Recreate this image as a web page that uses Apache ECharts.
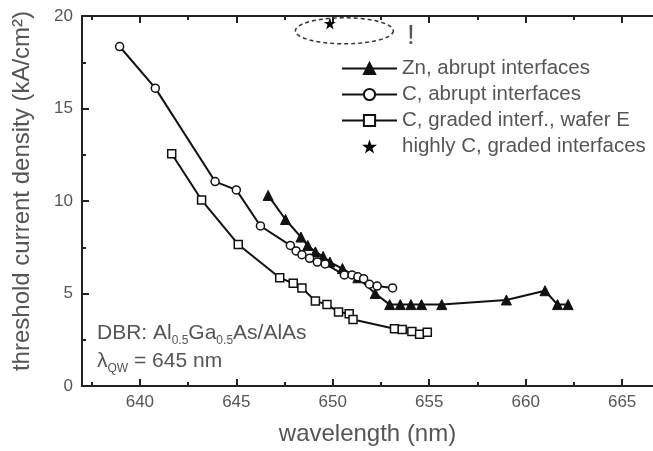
<!DOCTYPE html>
<html>
<head>
<meta charset="utf-8">
<script src="https://cdn.jsdelivr.net/npm/echarts@6/dist/echarts.min.js"></script>
<style>html,body{margin:0;padding:0;background:#fff}#c{width:653px;height:451px}</style>
</head>
<body>
<div id="c"></div>
<script>
// ---- data (wavelength nm, threshold current density kA/cm^2) ----
const znAbrupt = [[646.65,10.3],[647.55,9.0],[648.35,8.05],[648.7,7.6],[649.1,7.25],[649.5,7.0],[649.85,6.7],[650.5,6.35],[651.3,5.85],[652.2,5.0],[652.95,4.4],[653.5,4.4],[654.05,4.4],[654.6,4.4],[655.65,4.4],[659.0,4.65],[661.0,5.15],[661.65,4.4],[662.2,4.4]];
const cAbrupt = [[638.95,18.35],[640.8,16.1],[643.9,11.05],[645.0,10.6],[646.25,8.65],[647.8,7.6],[648.1,7.3],[648.4,7.1],[648.8,6.9],[649.2,6.7],[649.6,6.6],[650.6,6.0],[651.0,6.0],[651.3,5.9],[651.6,5.8],[651.9,5.5],[652.3,5.4],[653.1,5.3]];
const cGraded = [[641.65,12.55],[643.2,10.05],[645.1,7.65],[647.25,5.85],[647.95,5.55],[648.4,5.3],[649.1,4.6],[649.7,4.4],[650.3,4.0],[650.85,3.9],[651.05,3.6],[653.2,3.1],[653.6,3.05],[654.1,2.95],[654.5,2.8],[654.9,2.9]];
const highlyC = [[649.85,19.6]];
const seriesNames = ['Zn, abrupt interfaces','C, abrupt interfaces','C, graded interf., wafer E','highly C, graded interfaces'];
const xMajor = [640,645,650,655,660,665];
const xMinor = [637.5,642.5,647.5,652.5,657.5,662.5];
const yTicks = [0,5,10,15,20];

const STAR = 'path://M50,0 L61.8,35.1 L98.9,35.1 L68.9,56.8 L80.3,91.9 L50,70.2 L19.7,91.9 L31.1,56.8 L1.1,35.1 L38.2,35.1 Z';
const TXT = '#555';
const FONT = 'Liberation Sans';
const chart = echarts.init(document.getElementById('c'), null, {renderer:'canvas'});

function xAx(pos, vals, len, labels, name){
  return {
    type:'value', position:pos, min:637, max:666.6,
    axisLine:{show:true, onZero:false, lineStyle:{color:'#222', width:2}},
    axisTick:{show:true, inside:true, length:len, customValues:vals, lineStyle:{color:'#222', width:2}},
    axisLabel:{show:labels, customValues:vals, color:TXT, fontFamily:FONT, fontSize:17, margin:8},
    splitLine:{show:false},
    name:name||'', nameLocation:'middle', nameGap:36,
    nameTextStyle:{color:TXT, fontFamily:FONT, fontSize:24}
  };
}
const option = {
  animation:false,
  backgroundColor:'#fff',
  grid:{left:82, right:0, top:16, bottom:65},
  legend:{
    orient:'vertical', left:341, top:58, padding:0, itemWidth:55, itemHeight:14, itemGap:5,
    data:seriesNames,
    textStyle:{color:TXT, fontFamily:FONT, fontSize:20.5, lineHeight:20}
  },
  xAxis:[
    xAx('bottom', xMajor, 7, true, 'wavelength (nm)'),
    xAx('bottom', xMinor, 4, false),
    xAx('top', xMajor, 7, false),
    xAx('top', xMinor, 4, false)
  ],
  yAxis:[{
    type:'value', min:0, max:20, interval:5,
    axisLine:{show:true, lineStyle:{color:'#222', width:2}},
    axisTick:{show:true, inside:true, length:7, lineStyle:{color:'#222', width:2}},
    minorTick:{show:true, splitNumber:2, length:4, lineStyle:{color:'#222', width:2}},
    axisLabel:{color:TXT, fontFamily:FONT, fontSize:17, margin:9},
    splitLine:{show:false}
  }],
  series:[
    {name:seriesNames[0], type:'line', data:znAbrupt, symbol:'triangle', symbolSize:10,
     lineStyle:{color:'#111', width:2}, itemStyle:{color:'#111', borderColor:'#111', borderWidth:1}},
    {name:seriesNames[1], type:'line', data:cAbrupt, symbol:'circle', symbolSize:8,
     lineStyle:{color:'#111', width:2}, itemStyle:{color:'#fff', borderColor:'#111', borderWidth:1.5}},
    {name:seriesNames[2], type:'line', data:cGraded, symbol:'rect', symbolSize:8,
     lineStyle:{color:'#111', width:2}, itemStyle:{color:'#fff', borderColor:'#111', borderWidth:1.5}},
    {name:seriesNames[3], type:'scatter', data:highlyC, symbol:STAR, symbolSize:12,
     itemStyle:{color:'#000', opacity:1}}
  ]
};
chart.setOption(option);

// decorative annotations
const c = chart.convertToPixel({xAxisIndex:0, yAxisIndex:0}, [650.6, 19.2]);
const pts = [];
for (let i=0;i<72;i++){ const t=i/72*2*Math.PI; pts.push([c[0]+49*Math.cos(t), c[1]+13*Math.sin(t)]); }
chart.setOption({graphic:[
  {type:'text', x:22, y:191, rotation:Math.PI/2, style:{text:'threshold current density (kA/cm\u00B2)', fill:TXT, font:'24px "'+FONT+'"', align:'center', verticalAlign:'middle'}},
  {type:'polygon', shape:{points:pts}, style:{fill:'none', stroke:'#333', lineWidth:1.5, lineDash:[4,3]}, z:10},
  {type:'text', left:407, top:22, style:{text:'!', fill:TXT, font:'28px "'+FONT+'"'}},
  {type:'text', left:97, top:323, style:{
    rich:{n:{fill:TXT, fontFamily:FONT, fontSize:21}, s:{fill:TXT, fontFamily:FONT, fontSize:12, padding:[14,0,0,0]}},
    text:'{n|DBR: Al}{s|0.5}{n|Ga}{s|0.5}{n|As/AlAs}'}},
  {type:'text', left:97, top:351, style:{
    rich:{n:{fill:TXT, fontFamily:FONT, fontSize:21}, s:{fill:TXT, fontFamily:FONT, fontSize:12, padding:[14,0,0,0]}},
    text:'{n|\u03BB}{s|QW}{n| = 645 nm}'}}
]});
</script>
</body>
</html>
